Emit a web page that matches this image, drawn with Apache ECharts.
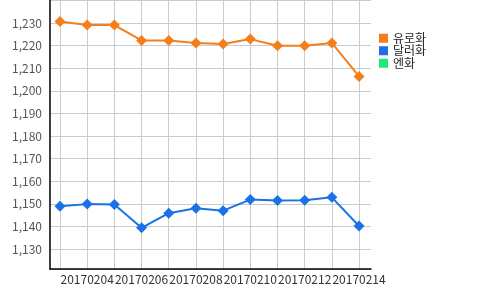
<!DOCTYPE html>
<html><head><meta charset="utf-8">
<script src="https://cdn.jsdelivr.net/npm/echarts@6/dist/echarts.min.js"></script>
<style>html,body{margin:0;padding:0;background:#fff}#c{width:500px;height:290px}</style>
</head><body><div id="c"></div>
<script>
const categories = ['20170203','20170204','20170205','20170206','20170207','20170208','20170209','20170210','20170211','20170212','20170213','20170214'];
const euro = [1230.7, 1229.1, 1229.1, 1222.3, 1222.3, 1221.2, 1220.7, 1222.9, 1220.0, 1220.0, 1221.2, 1206.4];
const dollar = [1149.0, 1149.9, 1149.7, 1139.4, 1145.9, 1148.1, 1147.0, 1151.9, 1151.5, 1151.6, 1152.9, 1140.2];
const yen = [];
const seriesNames = ['유로화', '달러화', '엔화'];
const colors = ['#f57e1c', '#1a72e6', '#1ee87c'];

const font = "'Noto Sans CJK KR', 'Noto Sans', sans-serif";
const chart = echarts.init(document.getElementById('c'), null, {renderer: 'canvas'});
function pairs(arr){ return arr.map((v,i)=>[i,v]); }
const tickIdx = categories.map((c,i)=>i);
const labelIdx = tickIdx.filter(i=>i%2===1);
function mk(name, arr, color){
  return {
    name: name, type: 'line', data: pairs(arr),
    symbol: 'diamond', symbolSize: 11, showSymbol: true,
    lineStyle: {color: color, width: 2},
    itemStyle: {color: color},
    emphasis: {disabled: true}, animation: false
  };
}
chart.setOption({
  animation: false,
  color: colors,
  grid: {left: 50, right: 129, top: 0, bottom: 21, containLabel: false},
  legend: {
    orient: 'vertical', left: 379, top: 32, padding: 0, itemWidth: 9, itemHeight: 9, itemGap: 0,
    icon: 'rect',
    textStyle: {fontFamily: font, fontSize: 12, color: '#222', lineHeight: 12.5},
    data: seriesNames
  },
  xAxis: {
    type: 'value', min: -0.367, max: 11.44,
    axisLine: {show: true, onZero: false, lineStyle: {color: '#000', width: 1.5}},
    axisTick: {show: false, customValues: tickIdx},
    splitLine: {show: true, lineStyle: {color: '#cccccc'}},
    axisLabel: {
      fontFamily: font, fontSize: 12, color: '#333', margin: 4,
      customValues: labelIdx,
      formatter: function(v){ return categories[Math.round(v)]; }
    }
  },
  yAxis: {
    type: 'value', min: 1121.2, max: 1240.2, splitNumber: 12,
    axisLine: {show: true, onZero: false, lineStyle: {color: '#000', width: 1.5}},
    axisTick: {show: false},
    splitLine: {show: true, lineStyle: {color: '#cccccc'}},
    axisLabel: {
      fontFamily: font, fontSize: 12, color: '#555', margin: 8,
      formatter: function(v){ return v > 1235 || v < 1125 ? '' : v.toLocaleString('en-US'); }
    }
  },
  series: [mk(seriesNames[0], euro, colors[0]), mk(seriesNames[1], dollar, colors[1]), mk(seriesNames[2], yen, colors[2])]
});
</script></body></html>
